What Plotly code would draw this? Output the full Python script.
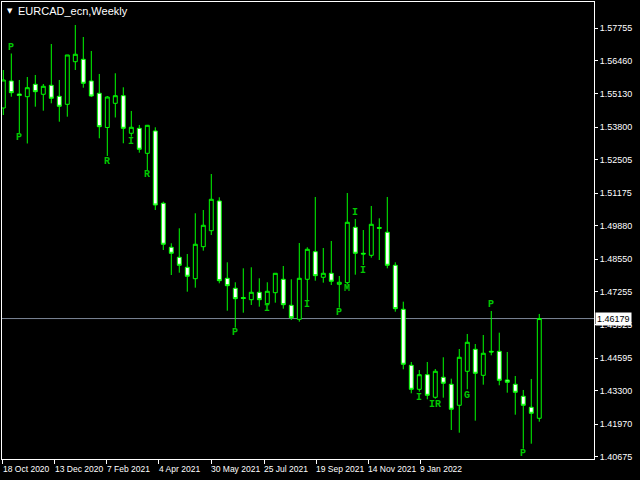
import plotly.graph_objects as go

# ---- data (EURCAD_ecn, Weekly) ----
open_ = [1.54568, 1.55644, 1.55126, 1.55018, 1.55512, 1.55114, 1.55473, 1.55034, 1.54715, 1.56413,
         1.56508, 1.55644, 1.55154, 1.53791, 1.54755, 1.55058, 1.53560, 1.53759, 1.52763, 1.53652,
         1.50771, 1.49018, 1.48620, 1.48221, 1.47767, 1.49042, 1.49679, 1.50863, 1.47783, 1.47385,
         1.47018, 1.46930, 1.47225, 1.46771, 1.47209, 1.47743, 1.46707, 1.46149, 1.47743, 1.48843,
         1.47823, 1.47982, 1.47544, 1.47608, 1.49815, 1.48779, 1.48699, 1.49807, 1.49616, 1.48301,
         1.46548, 1.44317, 1.43360, 1.43942, 1.43042, 1.43839, 1.43560, 1.42723, 1.44078, 1.44954,
         1.43918, 1.44874, 1.44874, 1.43731, 1.43560, 1.43082, 1.42643, 1.42205]
high = [1.56082, 1.56739, 1.55684, 1.55803, 1.55883, 1.55524, 1.57118, 1.55684, 1.56680, 1.57875,
        1.57397, 1.56839, 1.55923, 1.55046, 1.55951, 1.55393, 1.54449, 1.53891, 1.53891, 1.53799,
        1.50835, 1.49177, 1.49775, 1.48751, 1.50373, 1.50504, 1.51938, 1.51010, 1.48420, 1.47624,
        1.48181, 1.48221, 1.47783, 1.47624, 1.47982, 1.48273, 1.47743, 1.49189, 1.49018, 1.51022,
        1.48990, 1.49269, 1.47875, 1.51181, 1.50146, 1.49707, 1.50664, 1.50173, 1.51022, 1.48420,
        1.46851, 1.44448, 1.44129, 1.44448, 1.44169, 1.44636, 1.43783, 1.44966, 1.45564, 1.45165,
        1.45524, 1.46480, 1.45616, 1.44847, 1.43890, 1.43333, 1.43771, 1.46361]
low = [1.54289, 1.55018, 1.53572, 1.53154, 1.54620, 1.54461, 1.54755, 1.54022, 1.54221, 1.56082,
       1.55377, 1.55006, 1.53361, 1.52656, 1.54190, 1.53162, 1.53425, 1.52787, 1.52098, 1.50504,
       1.48910, 1.47914, 1.48006, 1.47249, 1.47409, 1.48883, 1.49508, 1.47584, 1.46492, 1.45815,
       1.46412, 1.46719, 1.46652, 1.46739, 1.46811, 1.46572, 1.46122, 1.46054, 1.46918, 1.47687,
       1.47608, 1.47516, 1.46612, 1.47544, 1.47926, 1.48313, 1.48604, 1.48512, 1.48181, 1.46452,
       1.44157, 1.43201, 1.43265, 1.42962, 1.42986, 1.43026, 1.41739, 1.41631, 1.43360, 1.42110,
       1.43544, 1.44715, 1.43520, 1.43225, 1.42348, 1.40994, 1.41193, 1.42070]
close = [1.55684, 1.55178, 1.55066, 1.55377, 1.55218, 1.55433, 1.54955, 1.54636, 1.56680, 1.56708,
         1.55552, 1.55046, 1.53823, 1.55006, 1.55058, 1.53759, 1.53799, 1.52923, 1.53879, 1.50703,
         1.49138, 1.48779, 1.48301, 1.47863, 1.49138, 1.49895, 1.50930, 1.47687, 1.47488, 1.46970,
         1.46978, 1.47225, 1.46930, 1.47265, 1.47982, 1.46731, 1.46213, 1.47783, 1.48938, 1.47887,
         1.47982, 1.47664, 1.47624, 1.50014, 1.48779, 1.48751, 1.49934, 1.49775, 1.48301, 1.46572,
         1.44357, 1.43360, 1.43942, 1.43121, 1.44078, 1.43600, 1.42564, 1.44636, 1.45233, 1.43998,
         1.44795, 1.44847, 1.43719, 1.43639, 1.43241, 1.42723, 1.42404, 1.46179]
bars = list(range(len(close)))

current_price = 1.46179

price_ticks = ["1.57755", "1.56460", "1.55130", "1.53800", "1.52505", "1.51175", "1.49880",
               "1.48550", "1.47255", "1.45925", "1.44595", "1.43300", "1.41970", "1.40675"]

date_labels = ["18 Oct 2020", "13 Dec 2020", "7 Feb 2021", "4 Apr 2021", "30 May 2021",
               "25 Jul 2021", "19 Sep 2021", "14 Nov 2021", "9 Jan 2022"]
date_tick_pos = [-0.08, 6.46, 12.93, 19.46, 26.0, 32.59, 39.13, 45.63, 52.13]

# indicator letters: text, bar index, price
mark_text = ["P", "P", "R", "I", "R", "P", "I", "I", "P", "M", "I", "I", "I", "IR", "G", "P", "P"]
mark_bar = [1, 2, 13, 16, 18, 29, 33, 38, 42, 43, 44, 45, 52, 54, 58, 61, 65]
mark_price = [1.56959, 1.53373, 1.52456, 1.53225, 1.51899, 1.45643, 1.46560, 1.46719, 1.46412,
              1.47369, 1.50397, 1.48086, 1.43042, 1.42763, 1.43133, 1.46731, 1.40783]

LIME = "#00FF00"

fig = go.Figure(go.Candlestick(
    x=bars, open=open_, high=high, low=low, close=close,
    increasing=dict(line=dict(color=LIME, width=1), fillcolor="black"),
    decreasing=dict(line=dict(color=LIME, width=1), fillcolor="white"),
    whiskerwidth=0, hoverinfo="none", showlegend=False,
))

annotations = []
for pos, lab in zip(date_tick_pos, date_labels):
    annotations.append(dict(x=pos, xref="x", y=0, yref="paper", xanchor="left", yanchor="top",
                            yshift=-3, xshift=-2, text=lab, showarrow=False,
                            font=dict(family="Liberation Sans", size=8.5, color="white")))
for t, b, p in zip(mark_text, mark_bar, mark_price):
    annotations.append(dict(x=b, xref="x", y=p, yref="y", text=t, showarrow=False,
                            xanchor="center", yanchor="middle",
                            font=dict(family="Liberation Mono", size=10, color="#00C800", weight="bold")))
annotations.append(dict(x=0, xref="paper", y=1, yref="paper", xanchor="left", yanchor="top",
                        xshift=3, yshift=-3, text="▼", showarrow=False,
                        font=dict(family="DejaVu Sans", size=7, color="white")))
annotations.append(dict(x=0, xref="paper", y=1, yref="paper", xanchor="left", yanchor="top",
                        xshift=14, yshift=-1, text="EURCAD_ecn,Weekly", showarrow=False,
                        font=dict(family="Liberation Sans", size=11, color="white")))
annotations.append(dict(x=1, xref="paper", y=current_price, yref="y", xanchor="left",
                        yanchor="middle", xshift=1, text="1.46179", showarrow=False,
                        bgcolor="white", borderpad=1,
                        font=dict(family="Liberation Sans", size=9, color="black")))

fig.update_layout(
    width=640, height=480,
    paper_bgcolor="black", plot_bgcolor="black",
    margin=dict(l=2, r=46, t=2, b=21),
    showlegend=False,
    annotations=annotations,
    shapes=[dict(type="line", xref="paper", x0=0, x1=1, yref="y", y0=current_price, y1=current_price,
                 line=dict(color="#7c8798", width=1), layer="below")],
    xaxis=dict(range=[-0.1625, 73.84], showgrid=False, zeroline=False,
               rangeslider=dict(visible=False), showline=True, mirror=True,
               linecolor="white", linewidth=1, ticks="outside", ticklen=4, tickcolor="white",
               tickvals=date_tick_pos, showticklabels=False),
    yaxis=dict(side="right", range=[1.40583, 1.58791], showgrid=False, zeroline=False,
               showline=True, mirror=True, linecolor="white", linewidth=1,
               ticks="outside", ticklen=3, tickcolor="white",
               tickvals=[float(v) for v in price_ticks], ticktext=price_ticks,
               tickfont=dict(family="Liberation Sans", size=9, color="white")),
)

fig.write_html("out.html", config={"displayModeBar": False},
               post_script="document.body.style.margin='0';document.body.style.background='black';")
